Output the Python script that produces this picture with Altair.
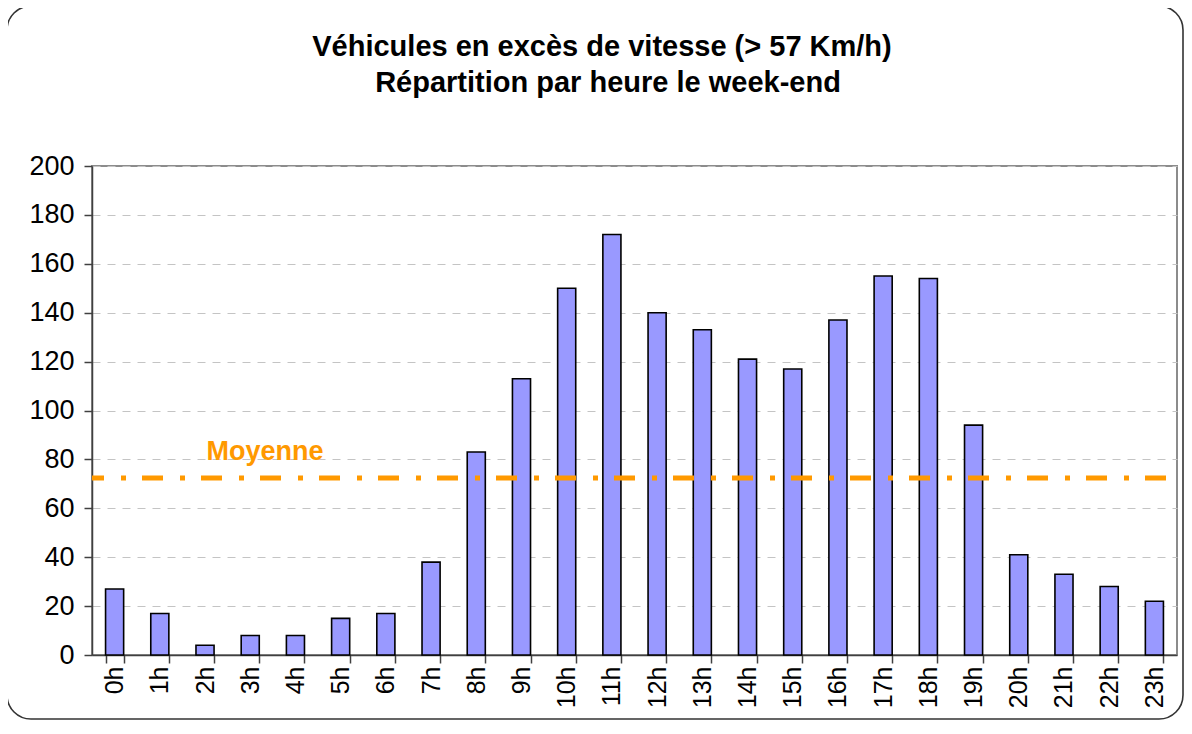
import altair as alt
import pandas as pd

hours = [f"{h}h" for h in range(24)]
counts = [27, 17, 4, 8, 8, 15, 17, 38, 83, 113, 150, 172, 140, 133, 121, 117, 137, 155, 154, 94, 41, 33, 28, 22]
mean_value = 72.4
mean_label = "Moyenne"
title_lines = ["Véhicules en excès de vitesse (> 57 Km/h)", "Répartition par heure le week-end"]

df = pd.DataFrame({"heure": hours, "n": counts})

FONT = "Liberation Sans"
W, H = 1085, 489

xscale = alt.Scale(domain=hours, paddingInner=0.6, paddingOuter=0.3)
yscale = alt.Scale(domain=[0, 200])

bars = alt.Chart(df).mark_bar(color="#9999FF", stroke="#000000", strokeWidth=1.6).encode(
    x=alt.X("heure:N", scale=xscale, sort=hours,
            axis=alt.Axis(title=None, labelAngle=-90, labelFontSize=25, labelFont=FONT,
                          labelColor="#000000", tickBand="extent", tickSize=8, tickColor="#404040",
                          tickWidth=1.5, domainColor="#404040", domainWidth=1.5, labelPadding=3,
                          grid=False, labelBaseline="middle", labelAlign="right")),
    y=alt.Y("n:Q", scale=yscale,
            axis=alt.Axis(title=None, values=list(range(0, 201, 20)), labelFontSize=27, labelFont=FONT,
                          labelColor="#000000", tickSize=8, tickColor="#404040", tickWidth=1.5,
                          domainColor="#404040", domainWidth=1.5, labelPadding=10,
                          grid=True, gridColor="#C4C4C4", gridDash=[8, 7], gridWidth=1)),
)

mean_df = pd.DataFrame({"v": [mean_value]})
mean_rule = alt.Chart(mean_df).mark_rule(color="#FF9900", strokeWidth=5, strokeDash=[21, 17, 5, 16],
                                         strokeDashOffset=9).encode(
    y=alt.Y("v:Q", scale=yscale), x=alt.value(0), x2=alt.value(1080)
)

mean_text = alt.Chart(pd.DataFrame({"t": [mean_label]})).mark_text(
    font=FONT, fontSize=27, fontWeight="bold", color="#FF9900", align="center", baseline="alphabetic"
).encode(text="t:N", x=alt.value(173), y=alt.value(294))

t1 = alt.Chart(pd.DataFrame({"t": [title_lines[0]]})).mark_text(
    font=FONT, fontSize=29, fontWeight="bold", color="#000000", align="center", baseline="alphabetic"
).encode(text="t:N", x=alt.value(510), y=alt.value(-110))
t2 = alt.Chart(pd.DataFrame({"t": [title_lines[1]]})).mark_text(
    font=FONT, fontSize=29, fontWeight="bold", color="#000000", align="center", baseline="alphabetic"
).encode(text="t:N", x=alt.value(516), y=alt.value(-74))

frame = alt.Chart(pd.DataFrame({"k": [0]})).mark_rect(
    fill=None, fillOpacity=0, stroke="#333333", strokeWidth=1.6, cornerRadius=24
).encode(x=alt.value(-85), x2=alt.value(1091), y=alt.value(-160), y2=alt.value(553))

chart = alt.layer(frame, bars, mean_rule, mean_text, t1, t2).properties(
    width=W, height=H,
    autosize=alt.AutoSizeParams(type="none"),
    padding={"left": 84, "top": 158, "right": 7, "bottom": 66},
    background="#FFFFFF",
).configure_view(stroke="#8C8C8C", strokeWidth=2)

chart.save("out.html", embed_options={"renderer": "svg", "actions": False})
